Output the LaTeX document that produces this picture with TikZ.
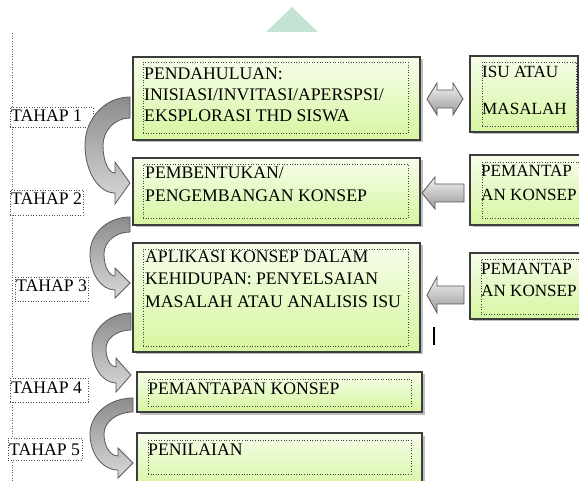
\documentclass[tikz,border=0pt]{standalone}
\usepackage{fontspec}
\setmainfont{Liberation Serif}
\usetikzlibrary{shadows}
\definecolor{gtop}{RGB}{246,253,234}
\definecolor{gbot}{RGB}{214,246,160}
\definecolor{bord}{RGB}{60,60,60}
\definecolor{wmark}{RGB}{197,227,211}
\newcommand\curvarr[8]{%
 \pgfmathsetmacro\caXb{#1-15}%
 \pgfmathsetmacro\caYB{#5+#7}%
 \pgfmathsetmacro\caYm{(#2+\caYB)/2}%
 \pgfmathsetmacro\caYA{#2+#3}%
 \pgfmathsetmacro\caYBi{#5-#7}%
 \pgfmathsetmacro\caYmi{(\caYA+\caYBi)/2}%
 \pgfmathsetmacro\caXli{#4+#8}%
 \path[carrow] (#1,#2) .. controls ({#1-0.552*(#1-#4)},#2) and (#4,{\caYm-0.552*(\caYm-#2)}) .. (#4,\caYm)
   .. controls (#4,{\caYm+0.552*(\caYB-\caYm)}) and ({\caXb-0.552*(\caXb-#4)},\caYB) .. (\caXb,\caYB)
   -- (\caXb,{#5+#6}) -- (#1,#5) -- (\caXb,{#5-#6}) -- (\caXb,\caYBi)
   .. controls ({\caXb-0.552*(\caXb-\caXli)},\caYBi) and (\caXli,{\caYmi+0.552*(\caYBi-\caYmi)}) .. (\caXli,\caYmi)
   .. controls (\caXli,{\caYmi-0.552*(\caYmi-\caYA)}) and ({#1-0.552*(#1-\caXli)},\caYA) .. (#1,\caYA) -- cycle;
}
\begin{document}
\begin{tikzpicture}[x=1pt,y=-1pt,
  greenbox/.style={draw=bord, line width=1.1pt, top color=gtop, bottom color=gbot,
    drop shadow={shadow xshift=2.5pt, shadow yshift=-2.5pt, opacity=0.5},
    anchor=north west, inner sep=0pt, outer sep=0pt},
  innerbox/.style={draw=black!75, dotted, line width=0.6pt, anchor=north west, inner sep=0pt, outer sep=0pt},
  tahapbox/.style={draw=black!70, dotted, line width=0.6pt, fill=white, anchor=north west, inner sep=0pt, outer sep=0pt},
  txt/.style={anchor=base west, inner sep=0pt, font=\fontsize{17.7}{21}\selectfont, text=black},
  rtxt/.style={txt, font=\fontsize{17.1}{21}\selectfont},
  carrow/.style={draw=black!65, line width=0.8pt, top color=black!45, bottom color=black!15},
  blockarrow/.style={draw=black!65, line width=0.8pt, top color=black!5, bottom color=black!40},
]
\useasboundingbox (0,0) rectangle (579,481);
% watermark fragment
\fill[wmark] (292,7) -- (318,32) -- (266,32) -- cycle;
% left dotted rule
\coordinate (ltop) at (12,33);
\coordinate (lbot) at (12,481);
\draw[black!60, dotted, line width=0.6pt] (ltop) -- (lbot);

% main boxes
\node[greenbox, minimum width=287pt, minimum height=83pt] (b1) at (133,57) {};
\node[greenbox, minimum width=287pt, minimum height=67pt] (b2) at (133,158) {};
\node[greenbox, minimum width=287pt, minimum height=109pt] (b3) at (133,243) {};
\node[greenbox, minimum width=285pt, minimum height=40pt] (b4) at (137,372) {};
\node[greenbox, minimum width=285pt, minimum height=57pt] (b5) at (137,433) {};
\node[greenbox, minimum width=108pt, minimum height=76pt] (r1) at (470,56) {};
\node[greenbox, minimum width=122pt, minimum height=70pt] (r2) at (470,155) {};
\node[greenbox, minimum width=122pt, minimum height=66pt] (r3) at (470,253) {};

% inner dotted boxes
\node[innerbox, minimum width=265pt, minimum height=71pt] (b1i) at (143,62) {};
\node[innerbox, minimum width=265pt, minimum height=54pt] (b2i) at (143,164) {};
\node[innerbox, minimum width=265pt, minimum height=97pt] (b3i) at (143,249) {};
\node[innerbox, minimum width=263pt, minimum height=27pt] (b4i) at (148,379) {};
\node[innerbox, minimum width=263pt, minimum height=34pt] (b5i) at (148,440) {};
\node[innerbox, minimum width=94pt, minimum height=64pt] (r1i) at (482,62) {};
\node[innerbox, minimum width=118pt, minimum height=56pt] (r2i) at (482,162) {};
\node[innerbox, minimum width=119pt, minimum height=55pt] (r3i) at (481,259) {};

% texts in boxes
\node[txt] (t1a) at (144,80) {PENDAHULUAN:};
\node[txt] (t1b) at (144,101) {INISIASI/INVITASI/APERSPSI/};
\node[txt] (t1c) at (144,122) {EKSPLORASI THD SISWA};
\node[txt] (t2a) at (145,179) {PEMBENTUKAN/};
\node[txt] (t2b) at (145,202) {PENGEMBANGAN KONSEP};
\node[txt] (t3a) at (145,263) {APLIKASI KONSEP DALAM};
\node[txt] (t3b) at (145,285) {KEHIDUPAN: PENYELSAIAN};
\node[txt] (t3c) at (145,308) {MASALAH ATAU ANALISIS ISU};
\node[txt] (t4a) at (148,395) {PEMANTAPAN KONSEP};
\node[txt] (t5a) at (148,455) {PENILAIAN};
\node[rtxt] (tr1a) at (482,78) {ISU ATAU};
\node[rtxt] (tr1b) at (482,115) {MASALAH};
\node[rtxt] (tr2a) at (481,177) {PEMANTAP};
\node[rtxt] (tr2b) at (481,201) {AN KONSEP};
\node[rtxt] (tr3a) at (481,275) {PEMANTAP};
\node[rtxt] (tr3b) at (481,297) {AN KONSEP};

% tahap labels
\node[tahapbox, minimum width=83pt, minimum height=20pt] (k1) at (10,107) {};
\node[tahapbox, minimum width=73pt, minimum height=25pt] (k2) at (10,190) {};
\node[tahapbox, minimum width=73pt, minimum height=24pt] (k3) at (15,277) {};
\node[tahapbox, minimum width=78pt, minimum height=24pt] (k4) at (10,378) {};
\node[tahapbox, minimum width=74pt, minimum height=22pt] (k5) at (8,438) {};
\node[txt] (tk1) at (11,122) {TAHAP 1};
\node[txt] (tk2) at (11,205) {TAHAP 2};
\node[txt] (tk3) at (16,292) {TAHAP 3};
\node[txt] (tk4) at (11,393) {TAHAP 4};
\node[txt] (tk5) at (9,455) {TAHAP 5};

% curved arrows between stages
\curvarr{130}{97}{21}{85}{183}{21}{10}{18}
\curvarr{130}{217}{15}{90}{283}{15}{7}{14}
\curvarr{131}{313}{17}{92}{375}{17}{8}{14}
\curvarr{133}{398}{14}{90}{463}{15}{7}{14}

% block arrows
\path[blockarrow] (427,99) -- (437,83) -- (437,90) -- (453,90) -- (453,83) -- (463,99)
  -- (453,115) -- (453,108) -- (437,108) -- (437,115) -- cycle;
\path[blockarrow] (422,193) -- (435,177) -- (435,184) -- (464,184) -- (464,202) -- (435,202) -- (435,209) -- cycle;
\path[blockarrow] (427,295) -- (437,277) -- (437,286) -- (464,286) -- (464,304) -- (437,304) -- (437,313) -- cycle;

% text cursor
\coordinate (cur1) at (434,327);
\coordinate (cur2) at (434,345);
\draw[black, line width=1.4pt] (cur1) -- (cur2);
\end{tikzpicture}
\end{document}
